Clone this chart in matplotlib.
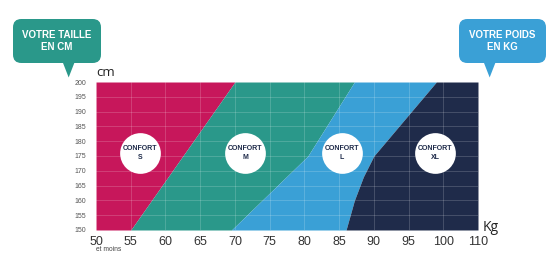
import numpy as np
import matplotlib
matplotlib.use('Agg')
import matplotlib.pyplot as plt
from matplotlib.patches import FancyBboxPatch, Polygon

# weight ticks (kg) - the last step 100 -> 110 is drawn as one interval
kg_ticks = [50, 55, 60, 65, 70, 75, 80, 85, 90, 95, 100, 110]
cm_ticks = [150, 155, 160, 165, 170, 175, 180, 185, 190, 195, 200]

# boundaries between sizes: (kg, cm) points
sm_kg = [55, 70]
sm_cm = [150, 200]
ml_kg = [69.5, 80.5, 87.2]
ml_cm = [150, 175, 200]
lxl_kg = [86, 87.2, 88.5, 90, 99]
lxl_cm = [150, 160, 168, 175, 200]

sizes = ['S', 'M', 'L', 'XL']
label_kg = [56.3, 71.5, 85.4, 98.8]
label_cm = [176, 176, 176, 176]
colors = ['#C7175B', '#2A988A', '#3AA0D6', '#1F2B4A']


def fwd(x):
    x = np.asarray(x, dtype=float)
    return np.where(x <= 100, (x - 50) / 5.0, 10 + (x - 100) / 10.0)


def inv(p):
    p = np.asarray(p, dtype=float)
    return np.where(p <= 10, 50 + p * 5.0, 100 + (p - 10) * 10.0)


fig = plt.figure(figsize=(5.56, 2.63), dpi=100)
ax = fig.add_axes([0.1727, 0.1255, 0.6870, 0.5627])
ax.set_xscale('function', functions=(fwd, inv))
ax.set_xlim(50, 110)
ax.set_ylim(150, 200)

# fill the four zones
cm_grid = np.linspace(150, 200, 201)
b1 = np.interp(cm_grid, sm_cm, sm_kg)
b2 = np.interp(cm_grid, ml_cm, ml_kg)
b3 = np.interp(cm_grid, lxl_cm, lxl_kg)
left = np.full_like(cm_grid, 50)
right = np.full_like(cm_grid, 110)
for lo, hi, c in zip([left, b1, b2, b3], [b1, b2, b3, right], colors):
    ax.fill_betweenx(cm_grid, lo, hi, color=c, lw=0, zorder=1)

# grid
for k in kg_ticks[1:-1]:
    ax.axvline(k, color='white', lw=0.6, alpha=0.2, zorder=2)
for c in cm_ticks[1:-1]:
    ax.axhline(c, color='white', lw=0.6, alpha=0.2, zorder=2)

# labels in white circles
for s, k, c in zip(sizes, label_kg, label_cm):
    ax.scatter([k], [c], s=860, color='white', zorder=3, lw=0)
    ax.text(k, c, 'CONFORT\n' + s, ha='center', va='center', fontsize=5,
            fontweight='bold', color='#1F2B4A', zorder=4, linespacing=1.3,
            family='Liberation Sans')

for sp in ax.spines.values():
    sp.set_visible(False)

ax.set_xticks(kg_ticks)
ax.set_xticklabels([str(k) for k in kg_ticks], fontsize=9, color='#333333',
                   family='Liberation Sans')
ax.set_yticks(cm_ticks)
ax.set_yticklabels([str(c) for c in cm_ticks], fontsize=5, color='#555555',
                   family='Liberation Sans')
ax.tick_params(length=0, pad=4)
ax.tick_params(axis='y', pad=7)
ax.xaxis.set_minor_locator(matplotlib.ticker.NullLocator())

ax.text(50, 201, 'cm', fontsize=9.5, color='#222222', va='bottom', ha='left',
        family='Open Sans')
fig.text(0.868, 0.135, 'Kg', fontsize=10, color='#222222', ha='left', va='center',
         family='Open Sans')
fig.text(0.172, 0.045, 'et moins', fontsize=4.8, color='#444444', ha='left',
         family='Liberation Sans')


def bubble(x0, x1, y0, y1, tail_x, color, text):
    w = x1 - x0
    h = y1 - y0
    box = FancyBboxPatch((x0, y0), w, h, boxstyle='round,pad=0,rounding_size=0.015',
                         transform=fig.transFigure, facecolor=color, edgecolor='none',
                         mutation_aspect=556 / 263)
    fig.patches.append(box)
    tail = Polygon([[tail_x - 0.018, y0 + 0.01], [tail_x + 0.006, y0 + 0.01],
                    [tail_x - 0.006, y0 - 0.055]], closed=True,
                   transform=fig.transFigure, facecolor=color, edgecolor='none')
    fig.patches.append(tail)
    fig.text((x0 + x1) / 2, (y0 + y1) / 2, text, ha='center', va='center',
             fontsize=7, fontweight='bold', color='white', linespacing=1.2,
             family='Liberation Sans')


bubble(13 / 556, 101 / 556, 1 - 63 / 263, 1 - 19 / 263, 72 / 556, '#2A988A',
       'VOTRE TAILLE\nEN CM')
bubble(459 / 556, 546 / 556, 1 - 63 / 263, 1 - 19 / 263, 493 / 556, '#3AA0D6',
       'VOTRE POIDS\nEN KG')

fig.savefig('out.png', dpi=100)
